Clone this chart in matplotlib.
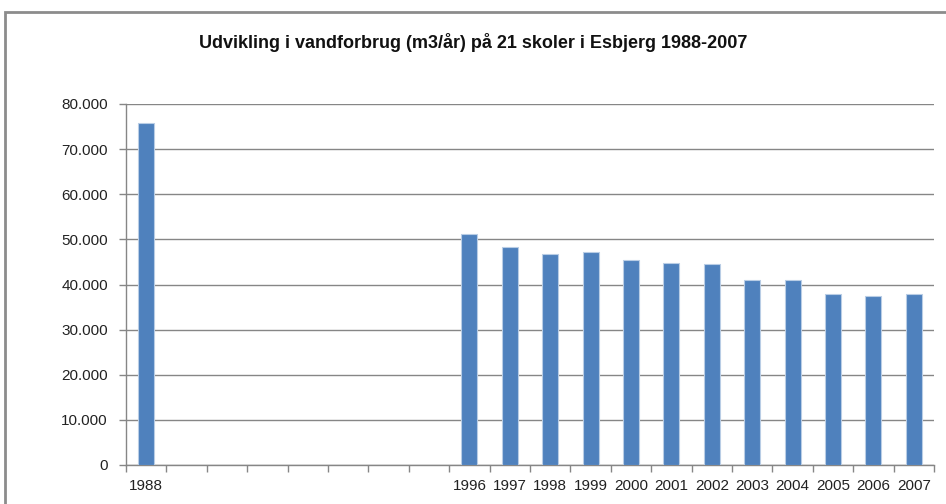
import numpy as np
import matplotlib
matplotlib.use('Agg')
import matplotlib.pyplot as plt
import matplotlib.ticker as mticker
from matplotlib.patches import Rectangle

# data (m3/year), 1989-1995 missing
years = list(range(1988, 2008))
values = [75700, None, None, None, None, None, None, None,
          51200, 48400, 46700, 47300, 45500, 44700, 44500,
          40900, 40900, 37800, 37400, 37800]
labels = ['1988', '', '', '', '', '', '', '',
          '1996', '1997', '1998', '1999', '2000', '2001', '2002',
          '2003', '2004', '2005', '2006', '2007']
yticks = np.arange(0, 80001, 10000)

plt.rcParams['font.family'] = ['Liberation Sans', 'DejaVu Sans']

fig = plt.figure(figsize=(9.46, 5.04), dpi=100)
# outer chart frame
fig.patches.append(Rectangle((5/946, -0.1), 1.1, 1 - 12/504 + 0.1, transform=fig.transFigure,
                             fill=False, edgecolor='#8c8c8c', linewidth=2))

ax = fig.add_axes([126/946, 39/504, 808/946, 361/504])
x = np.arange(len(years))
vals = np.array([np.nan if v is None else v for v in values], dtype=float)
ax.bar(x, vals, width=0.4, color='#4F81BD', edgecolor='#B9CDE5', linewidth=0.8, zorder=3)

ax.set_xlim(-0.5, len(years) - 0.5)
ax.set_ylim(0, 80000)
ax.set_yticks(yticks)
ax.yaxis.set_major_formatter(mticker.FuncFormatter(lambda v, p: f'{int(v):,}'.replace(',', '.')))
ax.grid(axis='y', color='#868686', linewidth=1, zorder=0)

ax.set_xticks(x)
ax.set_xticklabels(labels)
ax.set_xticks(np.arange(-0.5, len(years)), minor=True)
ax.tick_params(axis='x', which='major', length=0, pad=10, labelsize=11, colors='#222222')
ax.tick_params(axis='x', which='minor', length=5, color='#868686', width=1)
ax.tick_params(axis='y', length=5, color='#868686', width=1, labelsize=11, labelcolor='#222222', pad=8)

for s in ['top', 'right']:
    ax.spines[s].set_visible(False)
for s in ['left', 'bottom']:
    ax.spines[s].set_color('#868686')
    ax.spines[s].set_linewidth(1)

fig.text(0.5, 1 - 42/504, 'Udvikling i vandforbrug (m3/år) på 21 skoler i Esbjerg 1988-2007',
         ha='center', va='center', fontsize=13, fontweight='bold', color='#111111')

fig.savefig('out.png', dpi=100)
